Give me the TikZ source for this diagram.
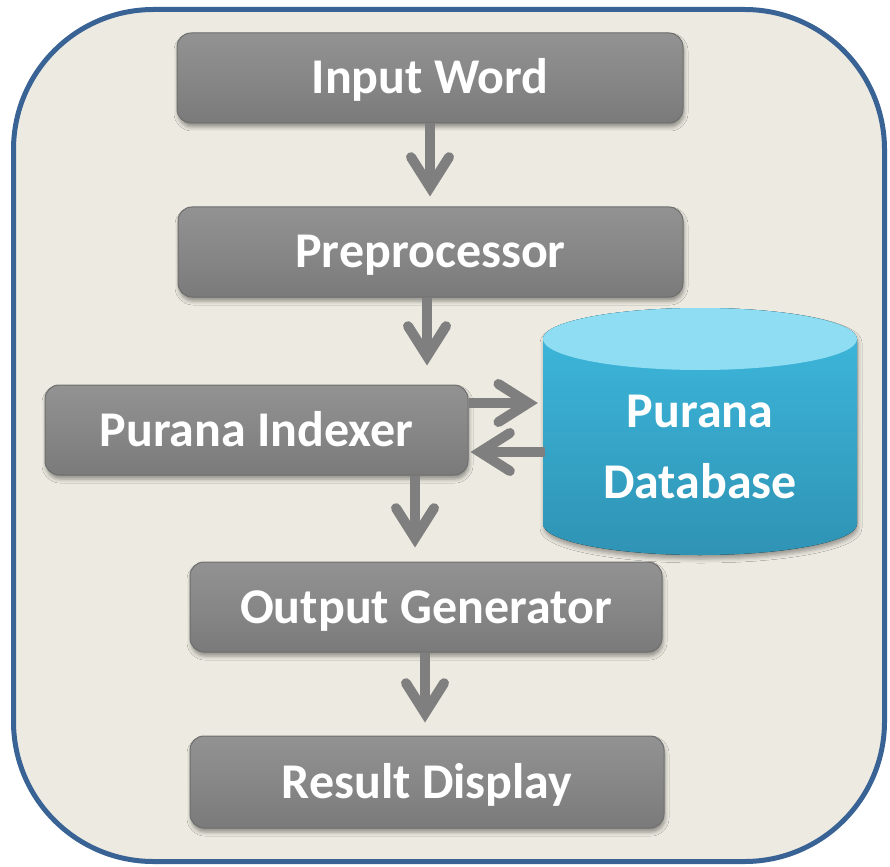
\documentclass[tikz,border=0pt]{standalone}
\usepackage{fontspec}
\setmainfont{Carlito}
\usetikzlibrary{arrows.meta,shadows.blur}
\definecolor{bgc}{HTML}{EDEBE1}
\definecolor{bord}{HTML}{3A6395}
\definecolor{boxg}{HTML}{878787}
\definecolor{boxtop}{HTML}{929292}
\definecolor{boxbot}{HTML}{7A7A7A}
\definecolor{boxline}{HTML}{6E6E6E}
\definecolor{arr}{HTML}{7F7F7F}
\definecolor{cyltop}{HTML}{8FDDF2}
\definecolor{cylA}{HTML}{3DBADF}
\definecolor{cylB}{HTML}{2F93B4}
\begin{document}
\begin{tikzpicture}[x=1pt,y=-1pt,
  procbox/.style={rounded corners=14pt, draw=boxline, line width=1pt,
    top color=boxtop, bottom color=boxbot, middle color=boxg,
    text=white, font=\fontsize{50}{60}\selectfont\bfseries,
    text height=32pt, text depth=0pt, inner sep=0pt,
    blur shadow={shadow xshift=1pt, shadow yshift=-4pt, shadow blur radius=4pt, shadow opacity=40}},
  flow/.style={draw=arr, line width=10pt,
    -{Straight Barb[length=30pt,width=38pt,line cap=round,line join=miter]}}]
\useasboundingbox (0,0) rectangle (890,866);
% outer frame
\draw[line width=5pt, draw=bord, fill=bgc, rounded corners=140pt] (13.5,9.5) rectangle (884.5,861.5);

% boxes
\node[procbox, minimum width=506pt, minimum height=90pt] (inp) at (430,78) {Input Word};
\node[procbox, minimum width=505pt, minimum height=90pt] (pre) at (430.5,252) {Preprocessor};
\node[procbox, minimum width=423pt, minimum height=90pt] (idx) at (256.5,430) {Purana Indexer};
\node[procbox, minimum width=472pt, minimum height=90pt] (out) at (426,607) {Output Generator};
\node[procbox, minimum width=474pt, minimum height=92pt] (res) at (427,782) {Result Display};

% database cylinder
\fill[top color=cylA, bottom color=cylB, blur shadow={shadow xshift=1pt, shadow yshift=-4pt, shadow blur radius=4pt, shadow opacity=35}]
  (543,339) -- (543,524) arc[start angle=180, end angle=0, x radius=157, y radius=31]
  -- (857,339) arc[start angle=0, end angle=-180, x radius=157, y radius=31] -- cycle;
\fill[cyltop] (700,339) ellipse[x radius=157, y radius=31];
\node[minimum width=314pt, minimum height=247pt, inner sep=0pt] (db) at (700,431.5) {};
\node[text=white, font=\fontsize{50}{71}\selectfont\bfseries, align=center, inner sep=0pt] (dbl) at (700,447) {Purana\\Database};

% connectors
\draw[flow] (inp.south) -- ([xshift=-0.5pt,yshift=10pt]pre.north);
\draw[flow] ([xshift=-3.5pt]pre.south) -- ([xshift=170.5pt,yshift=19pt]idx.north);
\draw[flow] ([yshift=27pt]idx.east) -- ([xshift=-5pt,yshift=28.5pt]db.west);
\draw[flow] ([xshift=2pt,yshift=-20.5pt]db.west) -- ([xshift=2pt,yshift=-22pt]idx.east);
\draw[flow] ([xshift=158.5pt]idx.south) -- ([xshift=-11pt,yshift=14pt]out.north);
\draw[flow] ([xshift=-1pt]out.south) -- ([xshift=-2pt,yshift=13pt]res.north);
\end{tikzpicture}
\end{document}
